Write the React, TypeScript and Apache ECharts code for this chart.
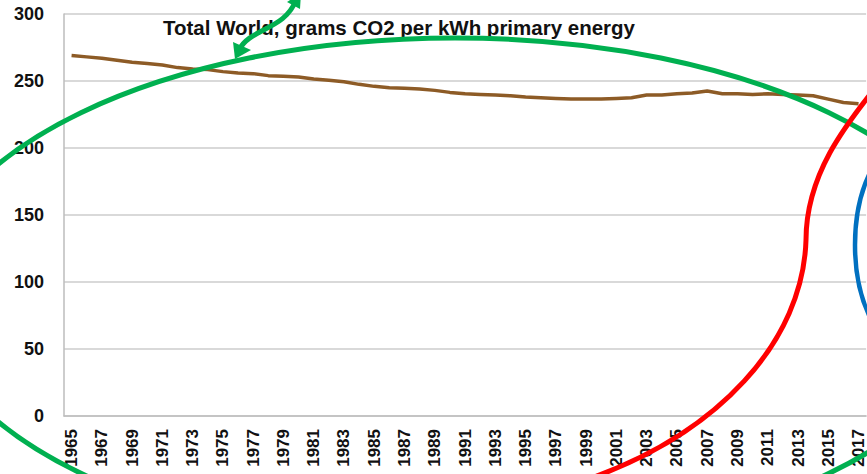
import React, { useEffect, useRef } from "react";
import * as echarts from "echarts";

const years: string[] = [];
for (let y = 1965; y <= 2017; y++) years.push(String(y));

const co2PerKwh: number[] = [
  269, 268, 267, 265.5, 264, 263, 262, 260, 259, 258.5,
  257, 256, 255.5, 254, 253.5, 253, 251.5, 250.5, 249.5, 247.5,
  246, 245, 244.5, 244, 243, 241.5, 240.5, 240, 239.5, 239,
  238, 237.5, 237, 236.5, 236.5, 236.5, 237, 237.5, 239.5, 239.5,
  240.5, 241, 242.5, 240.5, 240.5, 240, 240.5, 240, 239.5, 239,
  236.5, 234, 233,
];

const titleText = "Total World, grams CO2 per kWh primary energy";
const yMin = 0;
const yMax = 300;
const yStep = 50;

const FONT = "'Liberation Sans', Arial, Helvetica, sans-serif";
const GREEN = "#00b050";
const RED = "#ff0000";
const BLUE = "#0070c0";

export default function App() {
  const ref = useRef<HTMLDivElement>(null);
  useEffect(() => {
    if (!ref.current) return;
    const chart = echarts.init(ref.current, undefined, { renderer: "svg" });
    chart.setOption({
      animation: false,
      backgroundColor: "#ffffff",
      title: {
        text: titleText,
        left: 163,
        top: 17,
        padding: 0,
        textStyle: { fontFamily: FONT, fontSize: 20.5, fontWeight: "bold", color: "#111" },
      },
      grid: { left: 64, right: -3, top: 14, bottom: 58, containLabel: false },
      xAxis: {
        type: "category",
        data: years,
        boundaryGap: true,
        axisLine: { show: true, lineStyle: { color: "#bdbdbd", width: 1.5 } },
        axisTick: { show: false },
        axisLabel: {
          interval: 1,
          rotate: 90,
          margin: 13,
          fontFamily: FONT,
          fontSize: 17,
          fontWeight: "bold",
          color: "#111",
        },
      },
      yAxis: {
        type: "value",
        min: yMin,
        max: yMax,
        interval: yStep,
        axisLine: { show: true, lineStyle: { color: "#bdbdbd", width: 1.5 } },
        axisTick: { show: false },
        splitLine: { show: true, lineStyle: { color: "#cccccc", width: 1.5 } },
        axisLabel: {
          margin: 20,
          fontFamily: FONT,
          fontSize: 18,
          fontWeight: "bold",
          color: "#111",
        },
      },
      series: [
        {
          type: "line",
          data: co2PerKwh,
          symbol: "none",
          lineStyle: { color: "#8d5b26", width: 3.5 },
          z: 3,
        },
      ],
      graphic: [
        {
          type: "ellipse",
          z: 100,
          shape: { cx: 455, cy: 293, rx: 529, ry: 255 },
          style: { fill: "none", stroke: GREEN, lineWidth: 5 },
        },
        {
          type: "bezierCurve",
          z: 100,
          shape: { x1: 239, y1: 50, cpx1: 250, cpy1: 28, cpx2: 285, cpy2: 30, x2: 296, y2: 0 },
          style: { fill: "none", stroke: GREEN, lineWidth: 5 },
        },
        {
          type: "polygon",
          z: 100,
          shape: { points: [[235, 59], [233, 42], [251, 50]] },
          style: { fill: GREEN },
        },
        {
          type: "polygon",
          z: 100,
          shape: { points: [[301, -7], [300, 9], [287, 2]] },
          style: { fill: GREEN },
        },
        {
          type: "bezierCurve",
          z: 100,
          shape: { x1: 880, y1: 82, cpx1: 845, cpy1: 125, cpx2: 806, cpy2: 175, x2: 806, y2: 240 },
          style: { fill: "none", stroke: RED, lineWidth: 5 },
        },
        {
          type: "bezierCurve",
          z: 100,
          shape: { x1: 806, y1: 240, cpx1: 803, cpy1: 340, cpx2: 720, cpy2: 435, x2: 580, y2: 482 },
          style: { fill: "none", stroke: RED, lineWidth: 5 },
        },
        {
          type: "ellipse",
          z: 100,
          shape: { cx: 916, cy: 245, rx: 61, ry: 110 },
          style: { fill: "none", stroke: BLUE, lineWidth: 4.5 },
        },
      ],
    });
    return () => chart.dispose();
  }, []);
  return <div ref={ref} style={{ width: 867, height: 474, position: "fixed", left: 0, top: 0 }} />;
}
